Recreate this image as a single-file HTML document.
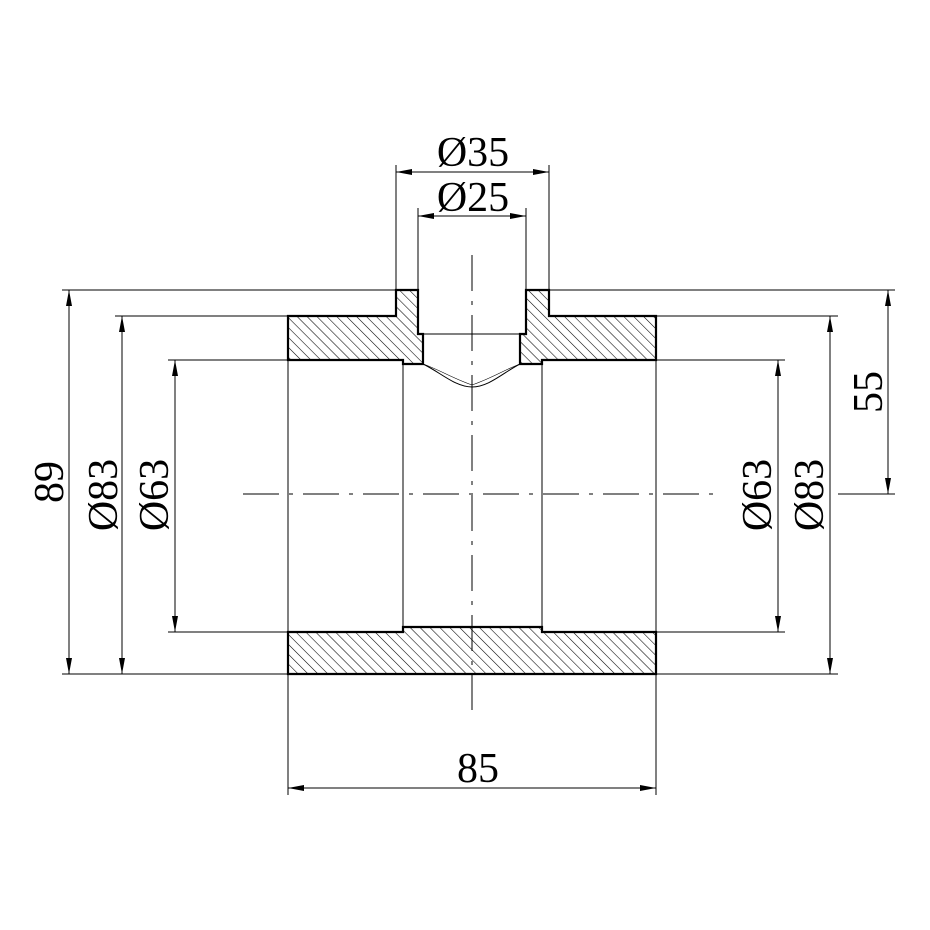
<!DOCTYPE html>
<html><head><style>html,body{margin:0;padding:0;background:#fff}svg{display:block}</style></head>
<body>
<svg width="930" height="930" viewBox="0 0 930 930" xmlns="http://www.w3.org/2000/svg">
<defs>
<pattern id="h" patternUnits="userSpaceOnUse" width="7" height="7" patternTransform="rotate(-45)">
<line x1="0" y1="0" x2="0" y2="7" stroke="#000" stroke-width="1.1"/>
</pattern>
<marker id="a" viewBox="0 0 16 6" refX="16" refY="3" markerWidth="16" markerHeight="6" orient="auto-start-reverse" markerUnits="userSpaceOnUse">
<path d="M0,0 L16,3 L0,6 z" fill="#000"/>
</marker>
</defs>
<g stroke="#000" stroke-width="1" fill="none">
<line x1="62" y1="290" x2="396" y2="290"/>
<line x1="549" y1="290" x2="895" y2="290"/>
<line x1="115" y1="316" x2="288" y2="316"/>
<line x1="656" y1="316" x2="838" y2="316"/>
<line x1="168" y1="360" x2="288" y2="360"/>
<line x1="656" y1="360" x2="785" y2="360"/>
<line x1="168" y1="632" x2="288" y2="632"/>
<line x1="656" y1="632" x2="785" y2="632"/>
<line x1="62" y1="674" x2="288" y2="674"/>
<line x1="656" y1="674" x2="838" y2="674"/>
<line x1="838" y1="494" x2="895" y2="494"/>
<line x1="396" y1="165" x2="396" y2="290"/>
<line x1="549" y1="165" x2="549" y2="290"/>
<line x1="418" y1="208" x2="418" y2="334"/>
<line x1="526" y1="208" x2="526" y2="334"/>
<line x1="288" y1="674" x2="288" y2="795"/>
<line x1="656" y1="674" x2="656" y2="795"/>
<line x1="288" y1="360" x2="288" y2="632"/>
<line x1="656" y1="360" x2="656" y2="632"/>
<line x1="403" y1="364" x2="403" y2="627"/>
<line x1="542" y1="364" x2="542" y2="627"/>
<line x1="418" y1="334" x2="526" y2="334"/>
<path d="M423,364 C440,372 455,387 472,387 C489,387 504,372 520,364"/>
<path d="M423,364 C440,370 452,378 472,385 M520,364 C504,370 492,378 472,385" stroke-width="0.6"/>
<line x1="243" y1="494" x2="720" y2="494" stroke-dasharray="36,10,4,10"/>
<line x1="472" y1="255" x2="472" y2="710" stroke-dasharray="36,10,4,10"/>
<line x1="69" y1="290" x2="69" y2="674" marker-start="url(#a)" marker-end="url(#a)"/>
<line x1="122" y1="316" x2="122" y2="674" marker-start="url(#a)" marker-end="url(#a)"/>
<line x1="175" y1="360" x2="175" y2="632" marker-start="url(#a)" marker-end="url(#a)"/>
<line x1="778" y1="360" x2="778" y2="632" marker-start="url(#a)" marker-end="url(#a)"/>
<line x1="830" y1="316" x2="830" y2="674" marker-start="url(#a)" marker-end="url(#a)"/>
<line x1="888" y1="290" x2="888" y2="494" marker-start="url(#a)" marker-end="url(#a)"/>
<line x1="396" y1="172" x2="549" y2="172" marker-start="url(#a)" marker-end="url(#a)"/>
<line x1="418" y1="216" x2="526" y2="216" marker-start="url(#a)" marker-end="url(#a)"/>
<line x1="288" y1="788" x2="656" y2="788" marker-start="url(#a)" marker-end="url(#a)"/>
</g>
<g stroke="#000" stroke-width="2.2" fill="url(#h)" stroke-linejoin="miter">
<path d="M288,316 L396,316 L396,290 L418,290 L418,334 L423,334 L423,364 L403,364 L403,360 L288,360 Z"/>
<path d="M656,316 L549,316 L549,290 L526,290 L526,334 L520,334 L520,364 L542,364 L542,360 L656,360 Z"/>
<path d="M288,632 L403,632 L403,627 L542,627 L542,632 L656,632 L656,674 L288,674 Z"/>
</g>
<g font-family="Liberation Serif, serif" font-size="42" fill="#000" text-anchor="middle">
<text x="473" y="166">Ø35</text>
<text x="473" y="211">Ø25</text>
<text x="478" y="782">85</text>
<text transform="translate(63,482) rotate(-90)">89</text>
<text transform="translate(117,495) rotate(-90)">Ø83</text>
<text transform="translate(168,495) rotate(-90)">Ø63</text>
<text transform="translate(771,495) rotate(-90)">Ø63</text>
<text transform="translate(823,495) rotate(-90)">Ø83</text>
<text transform="translate(882,392) rotate(-90)">55</text>
</g>
</svg>
</body></html>
